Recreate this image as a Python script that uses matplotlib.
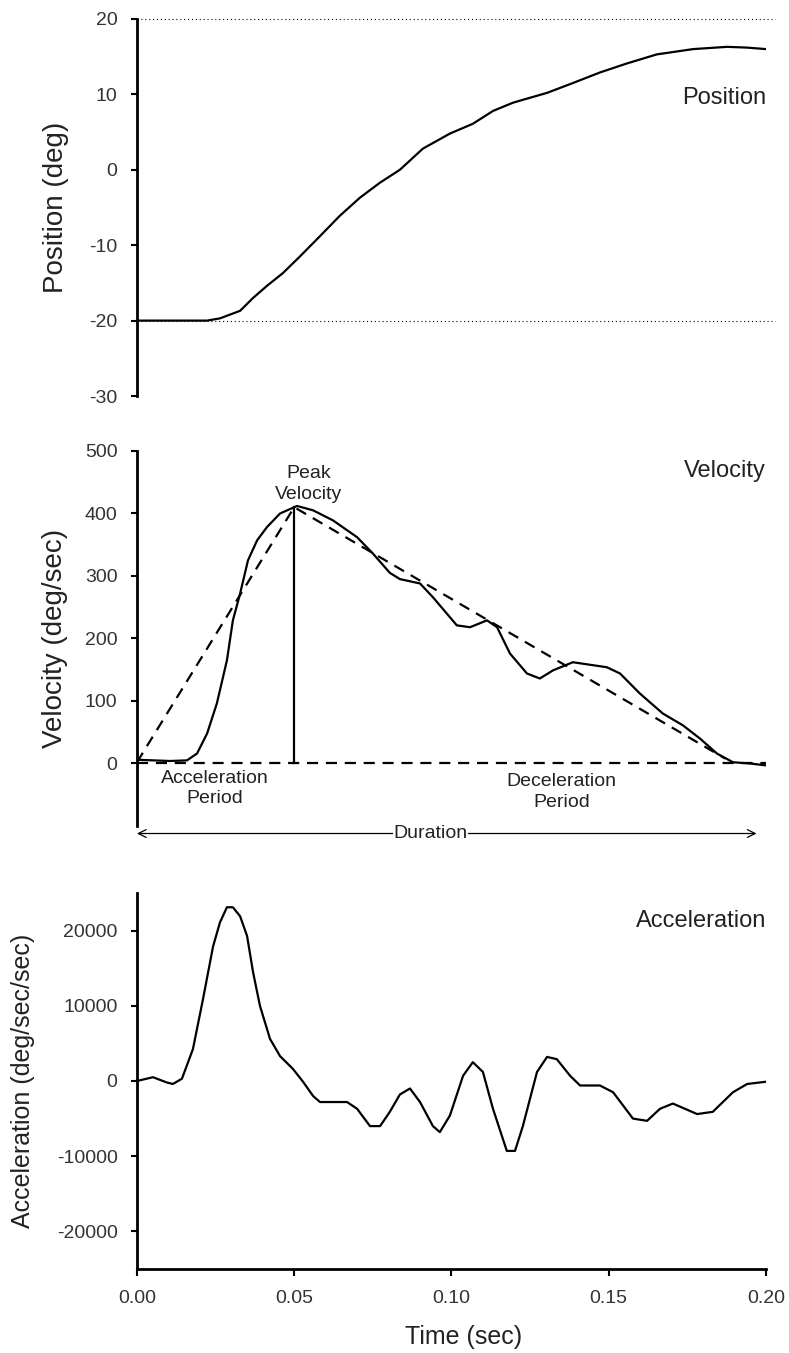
import matplotlib.pyplot as plt
from matplotlib.ticker import FormatStrFormatter

plt.rcParams["font.family"] = ["Liberation Sans", "DejaVu Sans"]
plt.rcParams["axes.unicode_minus"] = False

# position trace (sec, deg)
pos_t = [0.0, 0.0223, 0.0264, 0.0328, 0.0369, 0.0413, 0.0464, 0.0518, 0.0582,
         0.0645, 0.0709, 0.0773, 0.0836, 0.0909, 0.0995, 0.1068, 0.1132, 0.1196,
         0.1304, 0.1386, 0.1472, 0.1558, 0.1653, 0.1768, 0.1876, 0.1940, 0.2000]
pos = [-20, -20, -19.7, -18.7, -17.0, -15.4, -13.7, -11.5, -8.8,
       -6.1, -3.7, -1.7, 0.0, 2.8, 4.8, 6.1, 7.8, 8.9,
       10.2, 11.5, 12.9, 14.1, 15.3, 16.0, 16.3, 16.2, 16.0]

# velocity trace (sec, deg/sec)
vel_t = [0.0, 0.0105, 0.0159, 0.0191, 0.0223, 0.0254, 0.0286, 0.0305, 0.0328,
         0.0353, 0.0382, 0.0413, 0.0455, 0.0509, 0.0560, 0.0623, 0.0700, 0.0750,
         0.0804, 0.0836, 0.0900, 0.0941, 0.1017, 0.1059, 0.1113, 0.1145, 0.1186,
         0.1240, 0.1281, 0.1323, 0.1386, 0.1494, 0.1536, 0.1599, 0.1672, 0.1736,
         0.1790, 0.1844, 0.1895, 0.1949, 0.2000]
vel = [6, 4, 5, 16, 48, 96, 165, 229, 272,
       325, 357, 378, 400, 412, 405, 389, 362, 336,
       305, 295, 288, 266, 221, 218, 229, 218, 176,
       144, 136, 149, 162, 154, 144, 112, 80, 61,
       40, 16, 2, 0, -3]

# acceleration trace (sec, deg/sec/sec)
acc_t = [0.0, 0.0051, 0.0095, 0.0114, 0.0143, 0.0178, 0.0210, 0.0242, 0.0264,
         0.0286, 0.0305, 0.0328, 0.0350, 0.0369, 0.0391, 0.0423, 0.0455, 0.0496,
         0.0528, 0.0560, 0.0582, 0.0645, 0.0668, 0.0700, 0.0741, 0.0773, 0.0804,
         0.0836, 0.0868, 0.0900, 0.0941, 0.0963, 0.0995, 0.1037, 0.1068, 0.1100,
         0.1132, 0.1176, 0.1202, 0.1227, 0.1272, 0.1304, 0.1335, 0.1377, 0.1409,
         0.1472, 0.1514, 0.1577, 0.1622, 0.1663, 0.1704, 0.1781, 0.1831, 0.1895,
         0.1940, 0.2000]
acc = [0, 500, -200, -400, 300, 4250, 10900, 17900, 21100,
       23100, 23100, 21900, 19300, 14500, 10000, 5600, 3300, 1600,
       -100, -2000, -2800, -2800, -2800, -3700, -6000, -6000, -4100,
       -1800, -1000, -2800, -6000, -6800, -4600, 700, 2500, 1200,
       -3700, -9300, -9300, -6000, 1200, 3200, 2900, 700, -600,
       -600, -1500, -5000, -5300, -3700, -3000, -4400, -4100, -1500,
       -400, -100]

# triangle approximation of the velocity profile
tri_t = [0.0, 0.05, 0.187]
tri_v = [2, 410, 8]
peak_t = 0.05
peak_v = 410

fig = plt.figure(figsize=(7.89, 13.53), dpi=100)
left, width = 0.1736, 0.7972
ax1 = fig.add_axes([left, 0.7073, width, 0.2787])
ax2 = fig.add_axes([left, 0.3895, width, 0.2772])
ax3 = fig.add_axes([left, 0.0621, width, 0.2779])

tick_col = "#333333"
txt_col = "#222222"
for ax in (ax1, ax2, ax3):
    ax.set_xlim(0, 0.2)
    for s in ("top", "right"):
        ax.spines[s].set_visible(False)
    ax.spines["left"].set_linewidth(2)
    ax.tick_params(axis="y", direction="out", length=4, width=1.5, pad=10,
                   labelsize=14, labelcolor=tick_col)
for ax in (ax1, ax2):
    ax.spines["bottom"].set_visible(False)
    ax.set_xticks([])

# position
ax1.plot(pos_t, pos, color="black", lw=1.6)
ax1.plot([0, 0.203], [20, 20], color="black", lw=0.8, ls=(0, (1, 2.5)), clip_on=False)
ax1.plot([0, 0.203], [-20, -20], color="black", lw=0.8, ls=(0, (1, 2.5)), clip_on=False)
ax1.set_ylim(-30, 20)
ax1.set_yticks([-30, -20, -10, 0, 10, 20])
ax1.set_ylabel("Position (deg)", fontsize=20, color=txt_col)
ax1.yaxis.set_label_coords(-0.108, 0.5)
ax1.text(0.2, 9.5, "Position", fontsize=17, ha="right", va="center", color=txt_col)

# velocity
ax2.plot(vel_t, vel, color="black", lw=1.6)
ax2.plot(tri_t, tri_v, color="black", lw=1.6, ls=(0, (5, 3.5)))
ax2.plot([0, 0.2], [0, 0], color="black", lw=1.6, ls=(0, (5, 3.5)))
ax2.plot([peak_t, peak_t], [0, peak_v], color="black", lw=1.6)
ax2.set_ylim(-100, 500)
ax2.set_yticks([0, 100, 200, 300, 400, 500])
ax2.set_ylabel("Velocity (deg/sec)", fontsize=20, color=txt_col)
ax2.yaxis.set_label_coords(-0.11, 0.5)
ax2.text(0.2, 468, "Velocity", fontsize=17, ha="right", va="center", color=txt_col)
ax2.text(0.0545, 447, "Peak\nVelocity", fontsize=14, ha="center", va="center",
         color=txt_col, linespacing=1.3)
ax2.text(0.0248, -40, "Acceleration\nPeriod", fontsize=14, ha="center", va="center",
         color=txt_col, linespacing=1.3)
ax2.text(0.135, -45, "Deceleration\nPeriod", fontsize=14, ha="center", va="center",
         color=txt_col, linespacing=1.3)
ax2.annotate("", xy=(0.0, -112), xytext=(0.197, -112),
             arrowprops=dict(arrowstyle="<->", lw=0.9, color="black",
                             shrinkA=0, shrinkB=0, mutation_scale=14),
             annotation_clip=False)
ax2.text(0.0933, -112, "Duration", fontsize=14, ha="center", va="center",
         color=txt_col, clip_on=False,
         bbox=dict(facecolor="white", edgecolor="none", pad=0.5))

# acceleration
ax3.plot(acc_t, acc, color="black", lw=1.6)
ax3.set_ylim(-25000, 25000)
ax3.set_yticks([-20000, -10000, 0, 10000, 20000])
ax3.set_ylabel("Acceleration (deg/sec/sec)", fontsize=18, color=txt_col)
ax3.yaxis.set_label_coords(-0.162, 0.5)
ax3.text(0.2, 21300, "Acceleration", fontsize=17, ha="right", va="center", color=txt_col)
ax3.spines["bottom"].set_linewidth(2)
ax3.set_xticks([0.0, 0.05, 0.10, 0.15, 0.20])
ax3.xaxis.set_major_formatter(FormatStrFormatter("%.2f"))
ax3.tick_params(axis="x", direction="out", length=5, width=1.5, pad=10,
                labelsize=14, labelcolor=tick_col)
ax3.set_xlabel("Time (sec)", fontsize=18, color=txt_col)
ax3.xaxis.set_label_coords(0.52, -0.15)

fig.savefig("out.png", dpi=100)
